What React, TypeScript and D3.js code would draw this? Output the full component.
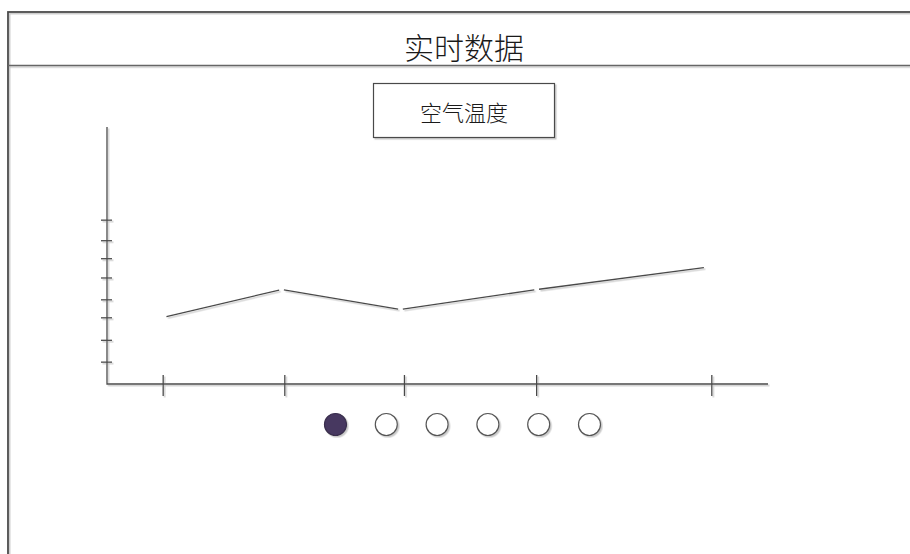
import React, { useRef, useEffect } from "react";
import * as d3 from "d3";

// chart data read from the mockup
const pageTitle = "实时数据";
const chartTitle = "空气温度";
const xTickValues = [8.5, 26.9, 45, 65, 91.5];
const yTickValues = [3.4, 6.8, 10.3, 13.1, 16.5, 19.5, 22.3, 25.5];
const pointX = [9, 26.4, 44.4, 65, 90.3];
const pointY = [10.5, 14.7, 11.6, 14.7, 18.1];
const pagerDots = [0, 1, 2, 3, 4, 5];
const activeDot = 0;

const App: React.FC = () => {
  const svgRef = useRef<SVGSVGElement | null>(null);

  useEffect(() => {
    const svg = d3.select(svgRef.current);
    svg.selectAll("*").remove();

    const W = 910;
    const H = 554;
    svg.attr("width", W).attr("height", H);

    const stroke = "#4a4a4a";

    // soft grey shadow like the wireframe tool draws
    // (user space region so flat lines keep rendering)
    const defs = svg.append("defs");
    const filter = defs
      .append("filter")
      .attr("id", "shadow")
      .attr("filterUnits", "userSpaceOnUse")
      .attr("x", 0)
      .attr("y", 0)
      .attr("width", W)
      .attr("height", H);
    filter
      .append("feDropShadow")
      .attr("dx", 1.5)
      .attr("dy", 1.5)
      .attr("stdDeviation", 0.6)
      .attr("flood-color", "#bbbbbb")
      .attr("flood-opacity", 0.8);

    // outer frame + header divider
    svg
      .append("rect")
      .attr("x", 8)
      .attr("y", 12)
      .attr("width", W + 20)
      .attr("height", H + 20)
      .attr("fill", "none")
      .attr("stroke", stroke)
      .attr("stroke-width", 1.8)
      .attr("filter", "url(#shadow)");

    svg
      .append("line")
      .attr("x1", 8)
      .attr("x2", W)
      .attr("y1", 65.5)
      .attr("y2", 65.5)
      .attr("stroke", "#666")
      .attr("stroke-width", 1.4)
      .attr("filter", "url(#shadow)");

    svg
      .append("text")
      .attr("x", 464)
      .attr("y", 46)
      .attr("text-anchor", "middle")
      .attr("dominant-baseline", "central")
      .attr("font-family", "'Noto Sans CJK SC', sans-serif")
      .attr("font-size", 30)
      .attr("font-weight", 300)
      .attr("fill", "#1a1a1a")
      .text(pageTitle);

    // chart title box
    svg
      .append("rect")
      .attr("x", 373.5)
      .attr("y", 83.5)
      .attr("width", 181)
      .attr("height", 54)
      .attr("fill", "#fff")
      .attr("stroke", stroke)
      .attr("stroke-width", 1.2)
      .attr("filter", "url(#shadow)");

    svg
      .append("text")
      .attr("x", 464)
      .attr("y", 111)
      .attr("text-anchor", "middle")
      .attr("dominant-baseline", "central")
      .attr("font-family", "'Noto Sans CJK SC', sans-serif")
      .attr("font-size", 22)
      .attr("font-weight", 300)
      .attr("fill", "#1a1a1a")
      .text(chartTitle);

    // plot area
    const x = d3.scaleLinear().domain([0, 100]).range([107, 768]);
    const y = d3.scaleLinear().domain([0, 40]).range([384, 127]);

    const axes = svg.append("g").attr("filter", "url(#shadow)");

    axes
      .append("path")
      .attr("d", `M${x(0)},${y(40)}V${y(0)}H${x(100)}`)
      .attr("fill", "none")
      .attr("stroke", stroke)
      .attr("stroke-width", 1.3);

    axes
      .selectAll(".ytick")
      .data(yTickValues)
      .enter()
      .append("line")
      .attr("class", "ytick")
      .attr("x1", x(0) - 6)
      .attr("x2", x(0) + 5)
      .attr("y1", (d) => y(d))
      .attr("y2", (d) => y(d))
      .attr("stroke", stroke)
      .attr("stroke-width", 1.3);

    axes
      .selectAll(".xtick")
      .data(xTickValues)
      .enter()
      .append("line")
      .attr("class", "xtick")
      .attr("x1", (d) => x(d))
      .attr("x2", (d) => x(d))
      .attr("y1", y(0) - 9)
      .attr("y2", y(0) + 12)
      .attr("stroke", stroke)
      .attr("stroke-width", 1.3);

    // line drawn as separate segments with small gaps at the joints
    const pts = pointX.map((px, i) => [x(px), y(pointY[i])] as [number, number]);
    const line = d3.line<[number, number]>();
    const gap = 2.4;
    const segs = d3.pairs(pts).map(([a, b], i) => {
      const len = Math.hypot(b[0] - a[0], b[1] - a[1]);
      const ux = (b[0] - a[0]) / len;
      const uy = (b[1] - a[1]) / len;
      const s = i === 0 ? 0 : gap;
      const e = i === pts.length - 2 ? 0 : gap;
      return [
        [a[0] + ux * s, a[1] + uy * s],
        [b[0] - ux * e, b[1] - uy * e],
      ] as [number, number][];
    });

    svg
      .append("g")
      .attr("filter", "url(#shadow)")
      .selectAll("path")
      .data(segs)
      .enter()
      .append("path")
      .attr("d", (d) => line(d))
      .attr("fill", "none")
      .attr("stroke", stroke)
      .attr("stroke-width", 1.3);

    // pager dots
    const dotX = d3.scalePoint<number>().domain(pagerDots).range([335.5, 589.5]);
    svg
      .append("g")
      .attr("filter", "url(#shadow)")
      .selectAll("circle")
      .data(pagerDots)
      .enter()
      .append("circle")
      .attr("cx", (d) => dotX(d) as number)
      .attr("cy", 424.5)
      .attr("r", 11)
      .attr("fill", (d) => (d === activeDot ? "#473861" : "#fff"))
      .attr("stroke", (d) => (d === activeDot ? "#3a2e4e" : "#555"))
      .attr("stroke-width", 1.2);
  }, []);

  return (
    <div>
      <svg
        ref={svgRef}
        style={{ position: "absolute", left: 0, top: 0, display: "block", background: "#fff" }}
      />
    </div>
  );
};

export default App;
